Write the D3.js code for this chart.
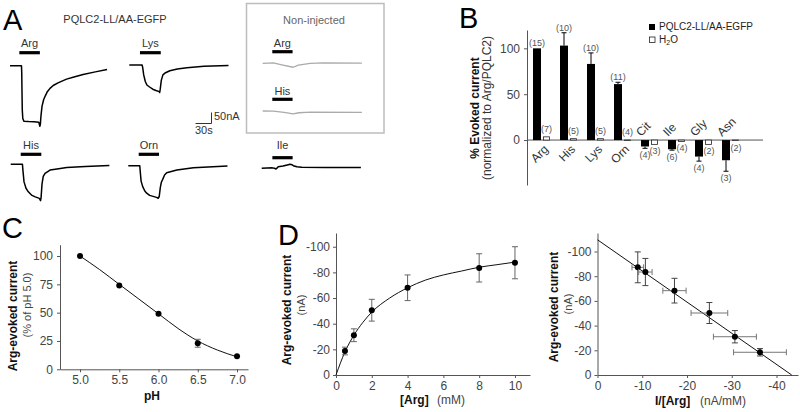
<!DOCTYPE html>
<html><head><meta charset="utf-8">
<script src="https://cdn.jsdelivr.net/npm/d3@7"></script>
<style>body{margin:0;background:#fff}svg{display:block}</style>
</head><body><svg id="c" width="800" height="412"></svg>
<script>
// ================= DATA =================
// Panel A: current traces [time (s), current (nA)] relative to holding baseline
const traceArg = [[0,0],[21.5,0],[22,-30],[22.5,-120],[23,-200],[24,-240],[26,-252],[35,-254],[45,-255],[54,-257],[56,-275],[57,-265],[58,-230],[60,-185],[63,-155],[66,-138],[70,-118],[75,-103],[81,-90],[90,-78],[106,-61],[120,-51],[137,-40],[160,-28],[182,-17]];
const traceLys = [[0,0],[24,0],[25,-10],[27,-45],[30,-75],[33,-91],[38,-100],[44,-110],[50,-116],[56,-121],[57,-125],[58,-110],[60,-70],[63,-45],[68,-35],[76,-26],[90,-18],[108,-12],[140,-6],[186,-2]];
const traceHis = [[0,0],[22,0],[23,-30],[25,-80],[28.7,-109],[33,-125],[39,-140],[46,-148],[53.7,-155],[56,-165],[57,-150],[58.7,-90],[61,-55],[64.4,-41],[73.7,-26],[90,-20],[105,-15],[140,-10],[185,-6]];
const traceOrn = [[0,0],[21.5,0],[22.5,-30],[24,-70],[27,-95],[31,-115],[34.5,-125],[40,-135],[53,-144],[56,-148],[58,-140],[60,-100],[62,-75],[64.5,-62],[68,-42],[72,-32],[91,-20],[122,-9],[186,-1]];
const traceIle = [[0,0],[20,2],[24,0],[26.8,-3],[29,2],[31,7],[40,10],[48,15],[53,18],[57,16],[59.3,12],[66,7],[75,5],[120,4],[186,4]];
const traceNonArg = [[0,0],[20,2],[38,-8],[57,-18],[67,-8],[89,0],[114,2],[186,1]];
const traceNonHis = [[0,0],[20,-1],[40,-6],[57,-13],[68,-8],[90,-5],[186,-6]];
// stimulus application windows [start, end] (s)
const stimArg = [17.5, 56];
const stimLys = [20, 59];
const stimHis = [18.8, 57.4];
const stimOrn = [19.5, 57.6];
const stimIle = [20, 58];
const stimNonArg = [18, 56];
const stimNonHis = [18, 56];
const scaleBarTime = 30;   // s
const scaleBarCurrent = 50; // nA

// Panel B
const categories = ["Arg","His","Lys","Orn","Cit","Ile","Gly","Asn"];
const pqlcMean = [100,103,83,61,-7,-10,-18,-22];
const pqlcErr  = [0,14,12,2,2,1,5,12];
const pqlcN    = [15,10,10,11,4,6,4,3];
const h2oMean  = [3.5,1.5,1.5,-0.5,-4.7,-1.5,-4.7,-0.5];
const h2oN     = [7,5,5,4,3,4,2,2];
const bTicks   = [0,50,100];

// Panel C
const pHValues = [5.0,5.5,6.0,6.5,7.0];
const cMean = [100,74,49,23,11.5];
const cErr  = [0,1.5,1.5,3.5,1];
const cFitPH = [5.0,5.25,5.5,5.75,6.0,6.25,6.5,6.75,7.0];
const cFitVal = [100,88,75,62,49,36,25,17,11];
const cTicksY = [0,25,50,75,100];
const cTicksX = [5.0,5.5,6.0,6.5,7.0];

// Panel D
const argConc = [0.5,1,2,4,8,10];
const dMean = [-18.7,-31,-50.5,-68,-83.5,-87.5];
const dErr  = [3,5,8.5,10,11,12.5];
const dFitX = [0,0.5,1,1.5,2,3,4,5,6,7,8,9,10];
const dFitY = [0,-18,-31,-41,-49,-60,-68,-74,-78,-81,-84,-86,-88];
const dTicksY = [0,-20,-40,-60,-80,-100];
const dTicksX = [0,2,4,6,8,10];

// Panel E (Eadie-Hofstee)
const eX = [-9,-10.7,-17.2,-25,-30.7,-36.3];
const eY = [-87.2,-83.4,-68.3,-50.2,-31,-18.4];
const eXErr = [1.3,1.5,2.6,4.1,4.8,5.9];
const eYErr = [12.5,11,10,8.5,5,3];
const eLineX = [0,-43.4];
const eLineY = [-109.5,0];
const eTicksY = [0,-20,-40,-60,-80,-100];
const eTicksX = [0,-10,-20,-30,-40];

// ================= DRAW =================
const FONT = '"Liberation Sans", Arial, Helvetica, sans-serif';
const svg = d3.select('#c').attr('font-family', FONT);

function text(x, y, s, o) {
  o = o || {};
  const t = svg.append('text').attr('x', x).attr('y', y).text(s)
    .attr('font-size', o.fs || 12).attr('fill', o.fill || '#222')
    .attr('text-anchor', o.anchor || 'start');
  if (o.bold) t.attr('font-weight', 'bold');
  return t;
}
function vtext(x, y, s, o) {
  o = o || {};
  return svg.append('text').attr('transform', `translate(${x},${y}) rotate(-90)`)
    .attr('text-anchor', 'middle').attr('font-size', o.fs || 12)
    .attr('font-weight', o.bold ? 'bold' : 'normal').attr('fill', o.fill || '#222').text(s);
}
function styleAxis(g) {
  g.attr('font-family', FONT).attr('font-size', 12);
  g.select('.domain').attr('stroke', '#555');
  g.selectAll('.tick line').attr('stroke', '#555');
  g.selectAll('.tick text').attr('fill', '#444');
}

// panel letters
[['A',3,29.5],['B',459,28],['C',2,238],['D',278,245]].forEach(([l,x,y]) =>
  text(x, y, l, {fs: 29, fill: '#000'}));

// ---------- Panel A ----------
text(115, 22.5, 'PQLC2-LL/AA-EGFP', {fs: 11, anchor: 'middle', fill: '#333'});
svg.append('rect').attr('x', 246.5).attr('y', 3.5).attr('width', 137.5).attr('height', 129.5)
  .attr('fill', 'none').attr('stroke', '#bdbdbd').attr('stroke-width', 1.5);
text(314, 23.5, 'Non-injected', {fs: 11, anchor: 'middle', fill: '#666'});

const tS = d3.scaleLinear().domain([0, 30]).range([0, 16]);
const iS = d3.scaleLinear().domain([0, -50]).range([0, 11]);
const traceLine = d3.line().x(d => tS(d[0])).y(d => iS(d[1])).curve(d3.curveLinear);

const traces = [
  {d: traceArg, s: stimArg, lab: 'Arg', x: 10, y: 65.7, by: 52.7, ly: 46.5, c: '#000', w: 1.5},
  {d: traceLys, s: stimLys, lab: 'Lys', x: 129.3, y: 65, by: 52.7, ly: 46.5, c: '#000', w: 1.5},
  {d: traceHis, s: stimHis, lab: 'His', x: 10.7, y: 164.3, by: 154.3, ly: 148.5, c: '#000', w: 1.5},
  {d: traceOrn, s: stimOrn, lab: 'Orn', x: 128.3, y: 165.7, by: 154.3, ly: 148.5, c: '#000', w: 1.5},
  {d: traceIle, s: stimIle, lab: 'Ile', x: 261.7, y: 168.3, by: 157.7, ly: 149, c: '#000', w: 1.5},
  {d: traceNonArg, s: stimNonArg, lab: 'Arg', x: 262.7, y: 63.3, by: 51.7, ly: 47, c: '#aaa', w: 1.3},
  {d: traceNonHis, s: stimNonHis, lab: 'His', x: 262.7, y: 111, by: 99.3, ly: 95, c: '#aaa', w: 1.3}
];
traces.forEach(tr => {
  const g = svg.append('g').attr('transform', `translate(${tr.x},${tr.y})`);
  g.append('path').attr('d', traceLine(tr.d)).attr('fill', 'none')
    .attr('stroke', tr.c).attr('stroke-width', tr.w).attr('stroke-linejoin', 'round');
  const x0 = tr.x + tS(tr.s[0]), x1 = tr.x + tS(tr.s[1]);
  svg.append('rect').attr('x', x0).attr('y', tr.by - 1.6).attr('width', x1 - x0).attr('height', 3.2).attr('fill', '#000');
  text((x0 + x1) / 2, tr.ly, tr.lab, {fs: 11, anchor: 'middle', fill: '#333'});
});
// scale bar
{
  const cx = 211.5, cy = 123.5;
  svg.append('path').attr('d', `M${cx - tS(scaleBarTime)},${cy}H${cx}V${cy - iS(-scaleBarCurrent)}`)
    .attr('fill', 'none').attr('stroke', '#333').attr('stroke-width', 1);
  text(214, 120, scaleBarCurrent + 'nA', {fs: 11, fill: '#333'});
  text(195, 133.5, scaleBarTime + 's', {fs: 11, fill: '#333'});
}

// ---------- Panel B ----------
const xB = d3.scaleBand().domain(categories).range([527, 743]);
const yB = d3.scaleLinear().domain([-49, 120]).range([185, 30]);
const y0B = yB(0);
const gBy = svg.append('g').attr('transform', 'translate(527,0)')
  .call(d3.axisLeft(yB).tickValues(bTicks).tickSize(3).tickSizeOuter(0).tickPadding(4));
styleAxis(gBy);
svg.append('line').attr('x1', 527).attr('x2', 763).attr('y1', y0B).attr('y2', y0B).attr('stroke', '#555');

categories.forEach((c, i) => {
  const bx = xB(c);
  const v = pqlcMean[i], e = pqlcErr[i], h = h2oMean[i];
  // black bar
  svg.append('rect').attr('x', bx + 6).attr('width', 8)
    .attr('y', yB(Math.max(v, 0))).attr('height', Math.abs(yB(v) - y0B)).attr('fill', '#000');
  // error bar
  if (e > 0) {
    const tip = v >= 0 ? v + e : v - e;
    svg.append('line').attr('x1', bx + 10).attr('x2', bx + 10).attr('y1', yB(v)).attr('y2', yB(tip)).attr('stroke', '#000');
    svg.append('line').attr('x1', bx + 7.5).attr('x2', bx + 12.5).attr('y1', yB(tip)).attr('y2', yB(tip)).attr('stroke', '#000');
  }
  // H2O bar
  svg.append('rect').attr('x', bx + 16.5).attr('width', 6)
    .attr('y', yB(Math.max(h, 0))).attr('height', Math.max(0.5, Math.abs(yB(h) - y0B)))
    .attr('fill', '#fff').attr('stroke', '#222').attr('stroke-width', 0.8);
  // n labels
  const pTip = v >= 0 ? v + e : v - e;
  if (v >= 0) {
    text(bx + 10, yB(pTip) - 2, `(${pqlcN[i]})`, {fs: 9, anchor: 'middle', fill: '#555'});
    text(bx + 19.5, yB(Math.max(h, 0)) - 5, `(${h2oN[i]})`, {fs: 9, anchor: 'middle', fill: '#555'});
    // category label below axis
    svg.append('text').attr('transform', `translate(${bx + 16},${y0B + 4}) rotate(-45)`)
      .attr('text-anchor', 'end').attr('dy', '0.7em').attr('font-size', 12).attr('fill', '#333').text(c);
  } else {
    text(bx + 10, yB(pTip) + 10, `(${pqlcN[i]})`, {fs: 9, anchor: 'middle', fill: '#555'});
    text(bx + 20, yB(h) + 10, `(${h2oN[i]})`, {fs: 9, anchor: 'middle', fill: '#555'});
    svg.append('text').attr('transform', `translate(${bx + 6},${y0B - 3}) rotate(-45)`)
      .attr('text-anchor', 'start').attr('font-size', 12).attr('fill', '#333').text(c);
  }
});
vtext(479, 108, '% Evoked current', {bold: true, fs: 12, fill: '#111'});
vtext(491, 108, '(normalized to Arg/PQLC2)', {fs: 12, fill: '#333'});
// legend
svg.append('rect').attr('x', 649).attr('y', 24).attr('width', 6).attr('height', 6).attr('fill', '#000');
text(659, 30, 'PQLC2-LL/AA-EGFP', {fs: 10, fill: '#222'});
svg.append('rect').attr('x', 649.5).attr('y', 37).attr('width', 5.5).attr('height', 5.5)
  .attr('fill', '#fff').attr('stroke', '#222').attr('stroke-width', 0.8);
{
  const t = text(659, 43, 'H', {fs: 10, fill: '#222'});
  t.append('tspan').attr('font-size', 7).attr('dy', 2).text('2');
  t.append('tspan').attr('dy', -2).text('O');
}

// ---------- Panel C ----------
const xC = d3.scaleLinear().domain([4.745, 7.14]).range([60, 248]);
const yC = d3.scaleLinear().domain([0, 110]).range([369.3, 244.7]);
const gCy = svg.append('g').attr('transform', 'translate(60,0)')
  .call(d3.axisLeft(yC).tickValues(cTicksY).tickSize(3).tickSizeOuter(0).tickPadding(4));
styleAxis(gCy);
const gCx = svg.append('g').attr('transform', 'translate(0,369.3)')
  .call(d3.axisBottom(xC).tickValues(cTicksX).tickFormat(d3.format('.1f')).tickSize(3).tickSizeOuter(0).tickPadding(3));
styleAxis(gCx);
svg.append('path').attr('d', d3.line().x((d, i) => xC(d)).y((d, i) => yC(cFitVal[i])).curve(d3.curveMonotoneX)(cFitPH))
  .attr('fill', 'none').attr('stroke', '#111').attr('stroke-width', 1);
pHValues.forEach((p, i) => {
  if (cErr[i] > 2) {
    const x = xC(p);
    [[cMean[i] - cErr[i], cMean[i] + cErr[i]]].forEach(([a, b]) => {
      svg.append('line').attr('x1', x).attr('x2', x).attr('y1', yC(a)).attr('y2', yC(b)).attr('stroke', '#666');
      svg.append('line').attr('x1', x - 3).attr('x2', x + 3).attr('y1', yC(a)).attr('y2', yC(a)).attr('stroke', '#666');
      svg.append('line').attr('x1', x - 3).attr('x2', x + 3).attr('y1', yC(b)).attr('y2', yC(b)).attr('stroke', '#666');
    });
  }
  svg.append('circle').attr('cx', xC(p)).attr('cy', yC(cMean[i])).attr('r', 3).attr('fill', '#000');
});
text(152, 400, 'pH', {bold: true, fs: 12, anchor: 'middle', fill: '#111'});
vtext(17, 316, 'Arg-evoked current', {bold: true, fs: 12, fill: '#111'});
vtext(31, 305, '(% of pH 5.0)', {fs: 11, fill: '#444'});

// ---------- Panel D ----------
const xD = d3.scaleLinear().domain([0, 10.84]).range([336, 530]);
const yD = d3.scaleLinear().domain([0, -110.7]).range([375, 233]);
const gDy = svg.append('g').attr('transform', 'translate(336,0)')
  .call(d3.axisLeft(yD).tickValues(dTicksY).tickFormat(d => String(d)).tickSize(3).tickSizeOuter(0).tickPadding(3));
styleAxis(gDy);
const gDx = svg.append('g').attr('transform', 'translate(0,375)')
  .call(d3.axisBottom(xD).tickValues(dTicksX).tickSize(3).tickSizeOuter(0).tickPadding(3));
styleAxis(gDx);
svg.append('path').attr('d', d3.line().x(d => xD(d)).y((d, i) => yD(dFitY[i])).curve(d3.curveMonotoneX)(dFitX))
  .attr('fill', 'none').attr('stroke', '#111').attr('stroke-width', 1);
argConc.forEach((a, i) => {
  const x = xD(a), y1 = yD(dMean[i] - dErr[i]), y2 = yD(dMean[i] + dErr[i]);
  svg.append('line').attr('x1', x).attr('x2', x).attr('y1', y1).attr('y2', y2).attr('stroke', '#666');
  svg.append('line').attr('x1', x - 3).attr('x2', x + 3).attr('y1', y1).attr('y2', y1).attr('stroke', '#666');
  svg.append('line').attr('x1', x - 3).attr('x2', x + 3).attr('y1', y2).attr('y2', y2).attr('stroke', '#666');
  svg.append('circle').attr('cx', x).attr('cy', yD(dMean[i])).attr('r', 3).attr('fill', '#000');
});
{
  const t = text(400, 404, '[Arg]', {bold: true, fs: 12, fill: '#111'});
  svg.append('text').attr('x', 437).attr('y', 404).attr('font-size', 12).attr('fill', '#444').text('(mM)');
}
vtext(291, 310, 'Arg-evoked current', {bold: true, fs: 12, fill: '#111'});
vtext(305, 305, '(nA)', {fs: 11, fill: '#444'});

// ---------- Panel E ----------
const xE = d3.scaleLinear().domain([0, -44.8]).range([597.5, 798]);
const yE = d3.scaleLinear().domain([0, -115]).range([375, 233]);
const gEy = svg.append('g').attr('transform', 'translate(597.5,0)')
  .call(d3.axisLeft(yE).tickValues(eTicksY).tickFormat(d => String(d)).tickSize(3).tickSizeOuter(0).tickPadding(3));
styleAxis(gEy);
const gEx = svg.append('g').attr('transform', 'translate(0,375)')
  .call(d3.axisBottom(xE).tickValues(eTicksX).tickFormat(d => String(d)).tickSize(3).tickSizeOuter(0).tickPadding(3));
styleAxis(gEx);
svg.append('path').attr('d', d3.line().x(d => xE(d)).y((d, i) => yE(eLineY[i]))(eLineX))
  .attr('fill', 'none').attr('stroke', '#111').attr('stroke-width', 1);
eX.forEach((xv, i) => {
  const x = xE(xv), y = yE(eY[i]);
  const xa = xE(xv - eXErr[i]), xb = xE(xv + eXErr[i]);
  const ya = yE(eY[i] - eYErr[i]), yb = yE(eY[i] + eYErr[i]);
  svg.append('line').attr('x1', xa).attr('x2', xb).attr('y1', y).attr('y2', y).attr('stroke', '#777');
  svg.append('line').attr('x1', xa).attr('x2', xa).attr('y1', y - 3).attr('y2', y + 3).attr('stroke', '#777');
  svg.append('line').attr('x1', xb).attr('x2', xb).attr('y1', y - 3).attr('y2', y + 3).attr('stroke', '#777');
  svg.append('line').attr('x1', x).attr('x2', x).attr('y1', ya).attr('y2', yb).attr('stroke', '#444');
  svg.append('line').attr('x1', x - 3).attr('x2', x + 3).attr('y1', ya).attr('y2', ya).attr('stroke', '#444');
  svg.append('line').attr('x1', x - 3).attr('x2', x + 3).attr('y1', yb).attr('y2', yb).attr('stroke', '#444');
  svg.append('circle').attr('cx', x).attr('cy', y).attr('r', 3).attr('fill', '#000');
});
text(655, 405, 'I/[Arg]', {bold: true, fs: 12, fill: '#111'});
svg.append('text').attr('x', 700).attr('y', 405).attr('font-size', 12).attr('fill', '#444').text('(nA/mM)');
vtext(558, 307, 'Arg-evoked current', {bold: true, fs: 12, fill: '#111'});
vtext(572, 304, '(nA)', {fs: 11, fill: '#444'});
</script></body></html>
